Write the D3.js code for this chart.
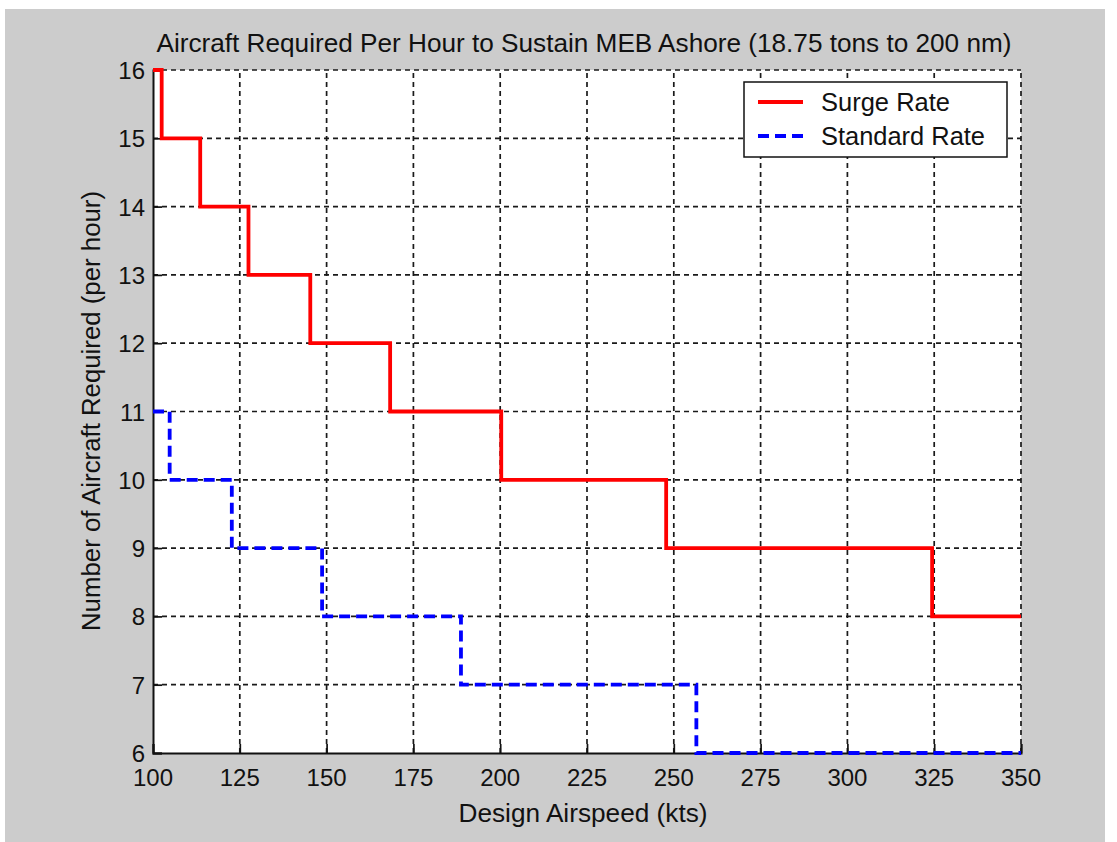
<!DOCTYPE html>
<html>
<head>
<meta charset="utf-8">
<script src="https://cdn.jsdelivr.net/npm/d3@7"></script>
<style>
  body { margin: 0; background: #fff; }
  text { font-family: "Liberation Sans", Arial, sans-serif; fill: #111; }
</style>
</head>
<body>
<div id="chart"></div>
<script>
// step data (speed where the count drops, kts)
var surgeSpeed = [100, 102.5, 113.6, 127.5, 145.3, 168.3, 200.3, 247.8, 324.4, 350];
var surgeCount = [16, 15, 14, 13, 12, 11, 10, 9, 8, 8];
var standardSpeed = [100, 104.8, 122.7, 148.7, 188.7, 256.5, 350];
var standardCount = [11, 10, 9, 8, 7, 6, 6];

var xTicks = [100, 125, 150, 175, 200, 225, 250, 275, 300, 325, 350];
var yTicks = [6, 7, 8, 9, 10, 11, 12, 13, 14, 15, 16];
var seriesNames = ["Surge Rate", "Standard Rate"];

var width = 1117,
    height = 842,
    plotLeft = 153,
    plotTop = 70,
    plotRight = 1021,
    plotBottom = 753;

var svg = d3.select("#chart").append("svg")
    .attr("width", width).attr("height", height);

// grey figure background
svg.append("rect").attr("x", 5).attr("y", 9).attr("width", 1100).attr("height", 833)
    .attr("fill", "#cccccc");

svg.append("rect").attr("x", plotLeft).attr("y", plotTop)
    .attr("width", plotRight - plotLeft).attr("height", plotBottom - plotTop)
    .attr("fill", "#fff");

var x = d3.scaleLinear().domain([100, 350]).range([plotLeft, plotRight]);
var y = d3.scaleLinear().domain([6, 16]).range([plotBottom, plotTop]);

// grid
var grid = svg.append("g").attr("stroke", "#1a1a1a").attr("stroke-width", 1.7)
    .attr("stroke-dasharray", "5,4");
grid.selectAll("line.v").data(xTicks.slice(1)).enter().append("line")
    .attr("x1", function(d) { return x(d); }).attr("x2", function(d) { return x(d); })
    .attr("y1", plotBottom).attr("y2", plotTop);
grid.selectAll("line.h").data(yTicks.slice(1)).enter().append("line")
    .attr("y1", function(d) { return y(d); }).attr("y2", function(d) { return y(d); })
    .attr("x1", plotLeft).attr("x2", plotRight);

// axes, ticks pointing inward
var xAxis = svg.append("g").attr("transform", "translate(0," + plotBottom + ")")
    .call(d3.axisTop(x).tickValues(xTicks).tickSize(9).tickFormat(""));
var yAxis = svg.append("g").attr("transform", "translate(" + plotLeft + ",0)")
    .call(d3.axisRight(y).tickValues(yTicks).tickSize(9).tickFormat(""));
[xAxis, yAxis].forEach(function(a) {
    a.select(".domain").attr("stroke", "#111").attr("stroke-width", 2);
    a.selectAll(".tick line").attr("stroke", "#111").attr("stroke-width", 1.7);
});

svg.append("g").selectAll("text").data(xTicks).enter().append("text")
    .attr("x", function(d) { return x(d); }).attr("y", 786)
    .attr("text-anchor", "middle").attr("font-size", 24)
    .text(function(d) { return d; });
svg.append("g").selectAll("text").data(yTicks).enter().append("text")
    .attr("x", 145).attr("y", function(d) { return y(d) + 9; })
    .attr("text-anchor", "end").attr("font-size", 24)
    .text(function(d) { return d; });

// step lines
var line = d3.line()
    .x(function(d) { return x(d[0]); })
    .y(function(d) { return y(d[1]); })
    .curve(d3.curveStepAfter);

svg.append("path").datum(d3.zip(surgeSpeed, surgeCount))
    .attr("d", line).attr("fill", "none")
    .attr("stroke", "#ff0000").attr("stroke-width", 3.8);
svg.append("path").datum(d3.zip(standardSpeed, standardCount))
    .attr("d", line).attr("fill", "none")
    .attr("stroke", "#0000ff").attr("stroke-width", 3.8)
    .attr("stroke-dasharray", "11,6");

// titles
svg.append("text").attr("x", (plotLeft + plotRight) / 2 - 3).attr("y", 52)
    .attr("text-anchor", "middle").attr("font-size", 25)
    .attr("textLength", 855).attr("lengthAdjust", "spacingAndGlyphs")
    .text("Aircraft Required Per Hour to Sustain MEB Ashore (18.75 tons to 200 nm)");
svg.append("text").attr("x", 583).attr("y", 822)
    .attr("text-anchor", "middle").attr("font-size", 25)
    .attr("textLength", 249).attr("lengthAdjust", "spacingAndGlyphs")
    .text("Design Airspeed (kts)");
svg.append("text")
    .attr("transform", "translate(100,411) rotate(-90)")
    .attr("text-anchor", "middle").attr("font-size", 25)
    .attr("textLength", 440).attr("lengthAdjust", "spacingAndGlyphs")
    .text("Number of Aircraft Required (per hour)");

// legend
var legend = svg.append("g");
legend.append("rect").attr("x", 744).attr("y", 82).attr("width", 263).attr("height", 75)
    .attr("fill", "#fff").attr("stroke", "#111").attr("stroke-width", 1.5);
var legendRows = legend.selectAll("g").data(seriesNames).enter().append("g")
    .attr("transform", function(d, i) { return "translate(0," + (102 + i * 34) + ")"; });
legendRows.append("line").attr("x1", 758).attr("x2", 803)
    .attr("stroke", function(d, i) { return i === 0 ? "#ff0000" : "#0000ff"; })
    .attr("stroke-width", 3.8)
    .attr("stroke-dasharray", function(d, i) { return i === 0 ? null : "11,6"; });
legendRows.append("text").attr("x", 821).attr("y", 9).attr("font-size", 25)
    .attr("textLength", function(d, i) { return i === 0 ? 129 : 164; })
    .attr("lengthAdjust", "spacingAndGlyphs")
    .text(function(d) { return d; });
</script>
</body>
</html>
